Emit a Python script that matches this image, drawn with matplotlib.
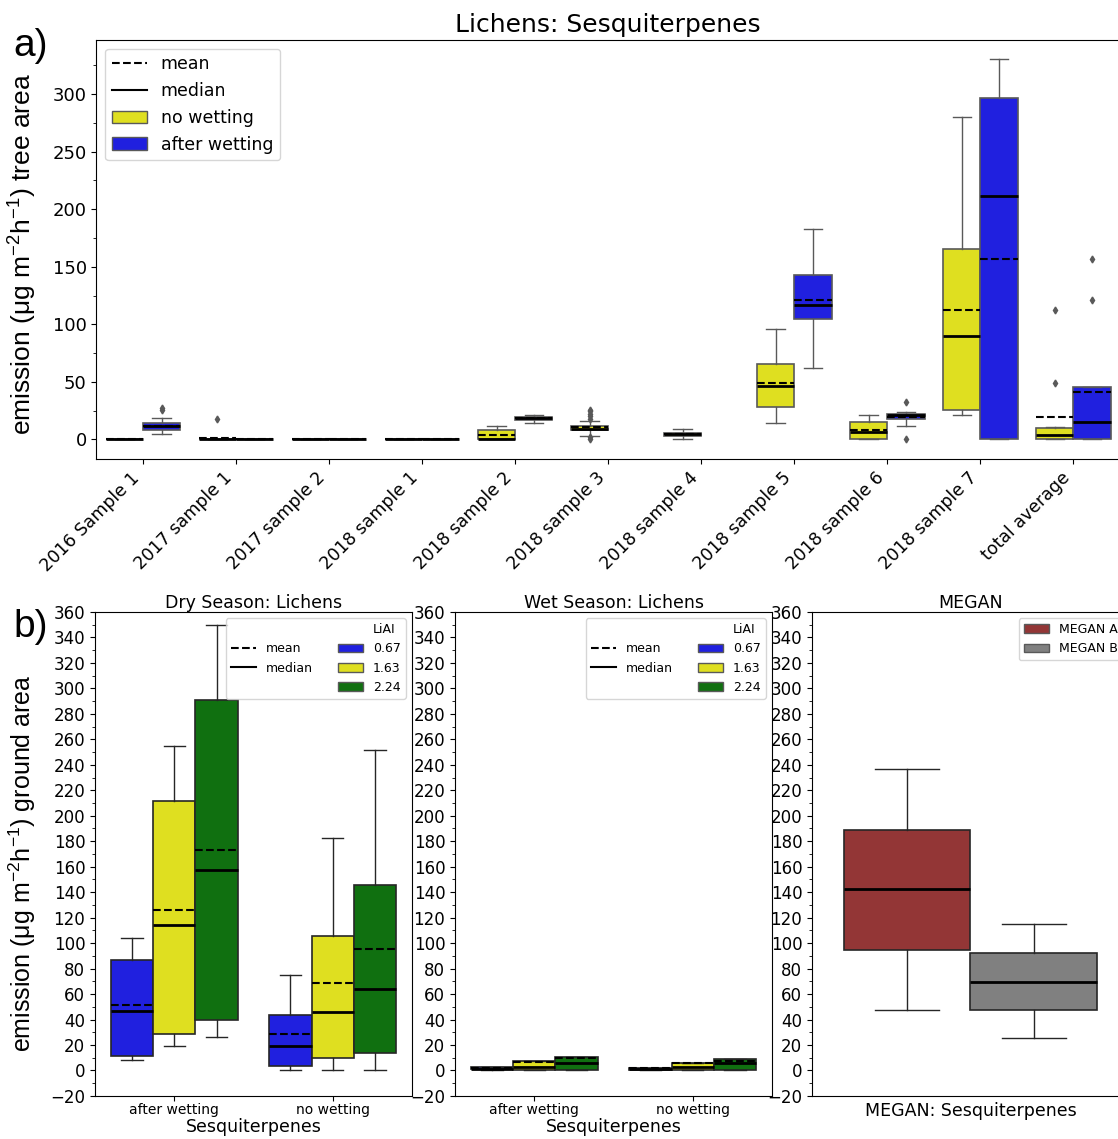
import numpy as np
import matplotlib.pyplot as plt
from matplotlib.lines import Line2D
from matplotlib.patches import Patch
from matplotlib.ticker import MultipleLocator

# ---- data: top panel (a) ----
samples = ['2016 Sample 1', '2017 sample 1', '2017 sample 2', '2018 sample 1',
           '2018 sample 2', '2018 sample 3', '2018 sample 4', '2018 sample 5',
           '2018 sample 6', '2018 sample 7', 'total average']
# whislo, q1, med, q3, whishi, mean  (None = no data)
no_wet = [
    [0, 0, 0, 0, 0, 0],
    [0, 0, 0, 0, 0, 1.2],
    [0, 0, 0, 0, 0, 0],
    [0, 0, 0, 0, 0, 0],
    [0, 0, 0, 8.4, 12, 3.5],
    [3.2, 8.4, 9, 12, 16.2, 10.7],
    [0, 2.9, 4.3, 5.8, 8.7, 4.3],
    [14.5, 28.1, 46.4, 65.8, 96.2, 49.3],
    [0, 0, 6.4, 15.4, 21.4, 8.1],
    [21.4, 25.2, 89.6, 165, 280, 112.7],
    [0, 0, 4, 10.1, 11, 19.1],
]
no_wet_fliers = [[], [18], [], [], [], [0, 2, 18, 20, 22, 24.5, 26], [], [], [], [], [49.3, 112.7]]
after_wet = [
    [4.3, 7.8, 11.3, 14.2, 18.8, 11.5],
    [0, 0, 0, 0, 0, 0],
    [0, 0, 0, 0, 0, 0],
    [0, 0, 0, 0, 0, 0],
    [14.5, 16.5, 18.5, 19.7, 21.4, 18.3],
    None,
    None,
    [62.3, 104.3, 116.5, 142.6, 182.6, 121.5],
    [12, 17.7, 20.9, 22, 24, 19.7],
    [0, 0, 211.3, 296.5, 330.4, 156.3],
    [0, 0, 14.8, 45.2, 45.2, 40.9],
]
after_wet_fliers = [[25.5, 27], [], [], [], [], [], [], [], [0, 32.8], [], [121, 156.3]]

# ---- data: bottom panels (b) ----
conditions = ['after wetting', 'no wetting']
liai = ['0.67', '1.63', '2.24']
dry = {  # per LiAI: [after wetting, no wetting] -> whislo, q1, med, q3, whishi, mean
    '0.67': [[8, 11.4, 46.7, 86.7, 104, 51.7], [0.4, 3.8, 19.5, 43.3, 75, 28.4]],
    '1.63': [[19, 28.7, 114, 211.6, 254.8, 126], [0, 9.6, 46.2, 105.6, 182.5, 68.7]],
    '2.24': [[26, 39.4, 157.4, 290.9, 349.8, 173], [0, 13.5, 64.2, 145.4, 251.6, 95.4]],
}
wet = {
    '0.67': [[0.5, 0.8, 1.5, 2.5, 2.8, 2.0], [0.5, 0.7, 1.3, 2.0, 2.3, 1.6]],
    '1.63': [[0, 0, 3.1, 7.8, 7.8, 7.0], [0, 0, 3.1, 6.2, 6.2, 5.5]],
    '2.24': [[0, 0, 5.5, 10.4, 10.4, 10.0], [0, 0.5, 5.5, 9.4, 9.4, 7.5]],
}
megan_names = ['MEGAN A', 'MEGAN B']
megan = [[47.5, 94.6, 142.5, 188.8, 236.7], [25.5, 47.5, 69.5, 92.3, 115]]

# colors (seaborn-desaturated)
c_yellow = '#dfdf20'
c_blue = '#2020df'
c_green = '#107010'
c_brown = '#933636'
c_gray = '#808080'
arial = 'Liberation Sans'


def draw_box(ax, s, pos, width, color, edge, fliers=(), show_mean=True, wlw=1.0):
    st = dict(whislo=s[0], q1=s[1], med=s[2], q3=s[3], whishi=s[4], fliers=list(fliers))
    ax.bxp([st], positions=[pos], widths=width, patch_artist=True,
           showfliers=True, manage_ticks=False,
           boxprops=dict(facecolor=color, edgecolor=edge, linewidth=1.2),
           whiskerprops=dict(color=edge, linewidth=wlw),
           capprops=dict(color=edge, linewidth=wlw),
           medianprops=dict(color='black', linewidth=2),
           flierprops=dict(marker='d', markersize=3.5, markerfacecolor=edge,
                           markeredgecolor=edge))
    if show_mean and len(s) > 5:
        ax.hlines(s[5], pos - width / 2, pos + width / 2, colors='black',
                  linestyles='--', linewidth=1.5, zorder=5)


fig = plt.figure(figsize=(11.18, 11.39), dpi=100)

# ---------------- panel a ----------------
ax = fig.add_axes([0.0863, 0.597, 0.9155, 0.368])
w = 0.4
for i in range(len(samples)):
    s = no_wet[i]
    draw_box(ax, s, i - w / 2, w, c_yellow, '0.35', no_wet_fliers[i])
    s = after_wet[i]
    if s is not None:
        draw_box(ax, s, i + w / 2, w, c_blue, '0.35', after_wet_fliers[i])
ax.set_xlim(-0.5, len(samples) - 0.5)
ax.set_ylim(-17, 347)
ax.set_xticks(range(len(samples)))
ax.set_xticklabels(samples, rotation=45, ha='right', fontsize=12.5)
ax.yaxis.set_major_locator(MultipleLocator(50))
ax.yaxis.set_minor_locator(MultipleLocator(25))
ax.tick_params(axis='y', labelsize=13)
ax.set_ylabel(r'emission (μg m$^{\mathregular{-2}}$h$^{\mathregular{-1}}$) tree area',
              fontsize=19, family=arial)
ax.yaxis.set_label_coords(-0.057, 0.49)
ax.set_title('Lichens: Sesquiterpenes', fontsize=18)
handles = [Line2D([], [], color='black', ls='--', lw=1.5),
           Line2D([], [], color='black', lw=1.5),
           Patch(facecolor=c_yellow, edgecolor='0.35'),
           Patch(facecolor=c_blue, edgecolor='0.35')]
ax.legend(handles, ['mean', 'median', 'no wetting', 'after wetting'],
          loc='upper left', fontsize=12.5)
fig.text(0.012, 0.951, 'a)', fontsize=28, family=arial)
fig.text(0.012, 0.441, 'b)', fontsize=28, family=arial)

# ---------------- panel b ----------------
hue_colors = [c_blue, c_yellow, c_green]
bw = 0.8 / 3
lefts = [0.085, 0.407, 0.7263]
axes_b = [fig.add_axes([l, 0.0378, 0.2835, 0.4249]) for l in lefts]

for axb, data, title in [(axes_b[0], dry, 'Dry Season: Lichens'),
                         (axes_b[1], wet, 'Wet Season: Lichens')]:
    for j, cond in enumerate(conditions):
        for k, lv in enumerate(liai):
            draw_box(axb, data[lv][j], j + (k - 1) * bw, bw, hue_colors[k], '0.15')
    axb.set_xlim(-0.5, 1.5)
    axb.set_xticks(range(len(conditions)))
    axb.set_xticklabels(conditions, fontsize=10)
    axb.tick_params(axis='x', pad=1.5)
    axb.set_xlabel('Sesquiterpenes', fontsize=12.5, labelpad=1)
    axb.set_title(title, fontsize=12.5, pad=3)
    blank = Line2D([], [], color='none')
    handles = [blank, Line2D([], [], color='black', ls='--', lw=1.5),
               Line2D([], [], color='black', lw=1.5), blank,
               blank] + [Patch(facecolor=c, edgecolor='0.35') for c in hue_colors]
    labels = ['', 'mean', 'median', '', 'LiAI'] + liai
    axb.legend(handles, labels, ncol=2, loc='upper right', fontsize=9)

axm = axes_b[2]
for k, name in enumerate(megan_names):
    draw_box(axm, megan[k], (k - 0.5) * 0.4, 0.4, [c_brown, c_gray][k], '0.15',
             show_mean=False)
axm.set_xlim(-0.5, 0.5)
axm.set_xticks([])
axm.set_xlabel('MEGAN: Sesquiterpenes', fontsize=12.5, labelpad=4)
axm.set_title('MEGAN', fontsize=12.5, pad=3)
axm.legend([Patch(facecolor=c_brown, edgecolor='0.35'), Patch(facecolor=c_gray, edgecolor='0.35')],
           megan_names, loc='upper right', fontsize=9)

for axb in axes_b:
    axb.set_ylim(-20, 360)
    axb.yaxis.set_major_locator(MultipleLocator(20))
    axb.yaxis.set_minor_locator(MultipleLocator(10))
    axb.tick_params(axis='y', labelsize=12)
axes_b[0].set_ylabel(r'emission (μg m$^{\mathregular{-2}}$h$^{\mathregular{-1}}$) ground area',
                     fontsize=18, family=arial)
axes_b[0].yaxis.set_label_coords(-0.18, 0.48)

fig.savefig('out.png', dpi=100)
